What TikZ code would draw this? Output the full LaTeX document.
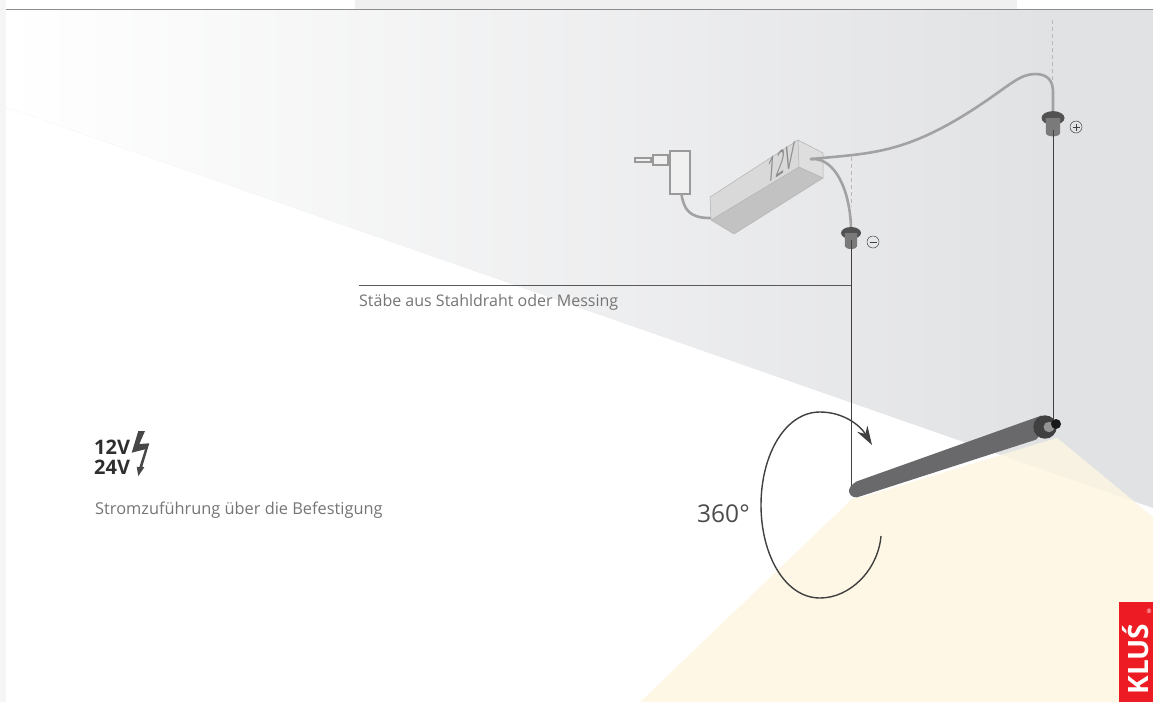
\documentclass[tikz,border=0pt]{standalone}
\usepackage{fontspec}
\setmainfont{Open Sans}
\usetikzlibrary{arrows.meta,shapes.geometric}
\definecolor{wallc}{HTML}{E1E2E4}
\definecolor{lightc}{HTML}{FEF7E6}
\definecolor{overlapc}{HTML}{F7F2E1}
\definecolor{rodc}{HTML}{404040}
\definecolor{cablec}{HTML}{A2A2A2}
\definecolor{txtc}{HTML}{757576}
\definecolor{barc}{HTML}{69696B}
\definecolor{logoc}{HTML}{ED1C24}
\tikzset{
  cable/.style={draw=cablec,line width=2.6pt,line cap=round},
  guide/.style={draw=black!28,line width=.5pt,dash pattern=on 4pt off 3pt},
  rod/.style={draw=rodc,line width=.95pt},
  plugpart/.style={draw=black!40,fill=black!6,line width=2pt},
  sign/.style={circle,draw=rodc,line width=.5pt,minimum size=12pt,inner sep=0pt},
  label/.style={inner sep=0pt,text=txtc,anchor=base west},
}
\begin{document}
\begin{tikzpicture}[x=1pt,y=-1pt]
\useasboundingbox (0,0) rectangle (1153,702);
\fill[white] (0,0) rectangle (1153,702);
% top band and left strip
\fill[black!6] (355,0) rectangle (1017,9);
\fill[black!4] (0,0) rectangle (6,702);
% wall
\begin{scope}
\clip (6,9) -- (1153,9) -- (1153,508) -- (6,107) -- cycle;
\fill[wallc] (6,9) rectangle (1153,520);
\shade[left color=white,right color=wallc] (6,9) rectangle (1050,520);
\end{scope}
\draw[black!45,line width=1pt] (6,9) -- (1153,9);
% light cone
\fill[lightc] (853,498) -- (863,497) -- (1057,438) -- (1153,517) -- (1153,702) -- (640,702) -- cycle;
\begin{scope}
\clip (853,498) -- (863,497) -- (1057,438) -- (1153,517) -- (1153,702) -- (640,702) -- cycle;
\fill[overlapc] (6,107) -- (1153,508) -- (1153,300) -- (6,9) -- cycle;
\end{scope}
% guides
\coordinate (gl1) at (851,157); \coordinate (gl2) at (851,207);
\coordinate (gr1) at (1052,20); \coordinate (gr2) at (1052,112);
\draw[guide] (gl1) -- (gl2);
\draw[guide] (gr1) -- (gr2);
% transformer
\coordinate (A) at (710,197); \coordinate (B) at (798,140); \coordinate (C) at (823,153);
\coordinate (D) at (823,178); \coordinate (E) at (799,167); \coordinate (F) at (711,220); \coordinate (G) at (734,234);
\fill[black!15] (A) -- (B) -- (E) -- (F) -- cycle;
\fill[black!13] (B) -- (C) -- (D) -- (E) -- cycle;
\fill[black!24] (F) -- (E) -- (D) -- (G) -- cycle;
\draw[black!30,line width=.5pt,line join=round] (A) -- (B) -- (C) -- (D) -- (G) -- (F) -- cycle (B) -- (E) -- (D) (E) -- (F);
\node[inner sep=0pt,text=black!45,font=\fontsize{25}{25}\selectfont,transform shape,cm={.62,.42,.1,1.4,(781,163)}] (voltage) at (0,0) {12V};
% plug
\node[plugpart,minimum width=20pt,minimum height=43pt,inner sep=0pt] (adapter) at (679.5,172) {};
\node[plugpart,minimum width=15pt,minimum height=10pt,inner sep=0pt,anchor=east] (prong) at (adapter.west |- 0,160) {};
\node[plugpart,minimum width=16pt,minimum height=3.5pt,inner sep=0pt,anchor=east] (pin) at (prong.west) {};
% cables
\coordinate (out) at (812,159);
\node[fill=cablec,ellipse,inner sep=0pt,minimum width=5pt,minimum height=3pt] (outdot) at (out) {};
\draw[cable] ([xshift=2pt]adapter.south) .. controls (684,210) and (690,218) .. (A |- 0,218);
\draw[cable] (out) .. controls (835,158) and (850,190) .. (851,228);
\draw[cable] (out) .. controls (870,153) and (905,155) .. (980,105)
  .. controls (1010,85) and (1020,74) .. (1035,74)
  .. controls (1047,74) and (1053,80) .. (1053,92) -- (1053,112);
% rods
\coordinate (barL) at (851,491); \coordinate (barR) at (1053,424);
\draw[rod] (851,240) -- (barL);
\draw[rod] (1053,130) -- (barR);
% bushes
\foreach \nm/\x/\y/\sc in {lb/851/233/1,rb/1053/118/1.15}{
  \fill[black!68] (\x,\y) ellipse ({10*\sc} and {6*\sc});
  \fill[black!52] (\x-6.2*\sc,\y) -- (\x+6.2*\sc,\y) -- (\x+6.2*\sc,\y+13*\sc) arc[start angle=0,end angle=-180,x radius=6.2*\sc,y radius=-3*\sc] -- cycle;
}
\draw[rod] (851,240) -- (851,250);
\draw[rod] (1053,130) -- (1053,140);
\node[sign] (minus) at (873,242) {};
\draw[rodc,line width=.5pt] ([xshift=-3.5pt]minus.center) -- ([xshift=3.5pt]minus.center);
\node[sign] (plus) at (1076,127) {};
\draw[rodc,line width=.5pt] ([xshift=-3.5pt]plus.center) -- ([xshift=3.5pt]plus.center) ([yshift=-3.5pt]plus.center) -- ([yshift=3.5pt]plus.center);
% bar
\fill[barc,rounded corners=2pt] (855,482) -- (1043,415) -- (1038,439) -- (855,498) -- (849,494) -- (849,488) -- cycle;
\fill[black!75] (1045,427) circle (11.7);
\fill[black!42] (1049,427) ellipse (5.5 and 5.2);
\fill[black!90] (1056,424) circle (5);
% leader
\coordinate (ll) at (359,285.5);
\draw[black!65,line width=.7pt] (ll) -- (851,285.5);
\node[label,font=\fontsize{16}{16}\selectfont] (rods) at (359,306) {Stäbe aus Stahldraht oder Messing};
% rotation
\draw[draw=rodc,line width=1.4pt,-{Stealth[length=19pt,width=12pt]}] (881,536) .. controls (878,570) and (850,598) .. (820,598)
  .. controls (785,598) and (761,555) .. (761,505)
  .. controls (761,455) and (785,412) .. (820,412)
  .. controls (843,412) and (860,425) .. (872,445);
\node[label,text=black!70,font=\fontsize{24.5}{25}\selectfont] (deg) at (697,522) {360°};
% voltage icon
\node[label,font=\fontsize{20}{20}\selectfont\bfseries,text=black!82] (v12) at (94,454) {12V};
\node[label,font=\fontsize{20}{20}\selectfont\bfseries,text=black!82] (v24) at (94,474) {24V};
\fill[black!72] (138.3,431) -- (145,431) -- (139.3,444) -- (149.3,443.3) -- (142.3,466.7) -- (144.3,467.3) -- (138.3,476) -- (136.7,466.7) -- (139.3,467.3) -- (145,449.3) -- (131.7,452.7) -- cycle;
\node[label,font=\fontsize{16.35}{17}\selectfont] (feed) at (95,514) {Stromzuführung über die Befestigung};
% logo
\fill[logoc] (1119,602) rectangle (1153,702);
\node[inner sep=0pt,rotate=90,anchor=base,text=white,font=\fontsize{28}{28}\selectfont\bfseries] (logo) at (1148,659) {KLUŚ};
\node[inner sep=0pt,text=white,font=\fontsize{6}{6}\selectfont] (reg) at (1149,611) {®};
\end{tikzpicture}
\end{document}
